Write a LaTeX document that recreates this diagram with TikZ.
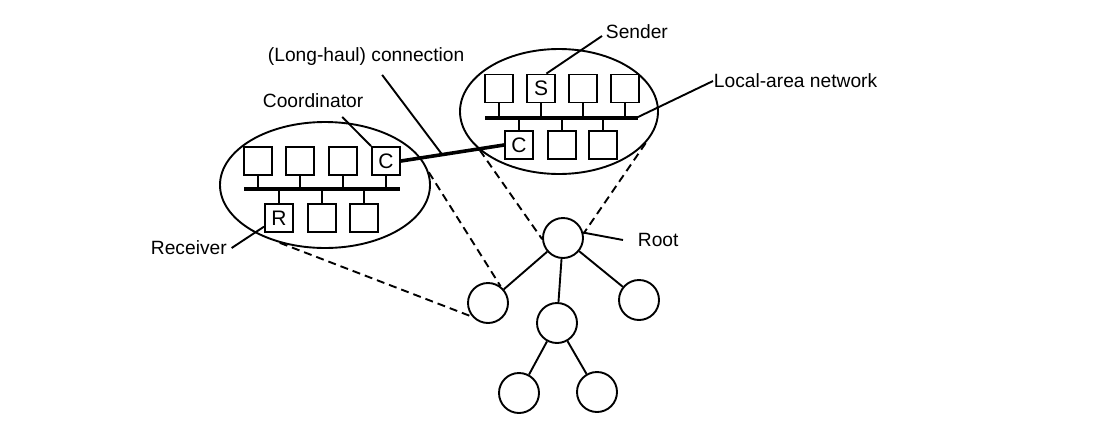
\documentclass[tikz,border=0pt]{standalone}
\usepackage{fontspec}
\setmainfont{Liberation Sans}
\usetikzlibrary{shapes.geometric}
\tikzset{
  host/.style={draw,minimum size=14pt,inner sep=0pt,font=\fontsize{10.5}{12}\selectfont},
  lan/.style={draw,ellipse,inner sep=0pt},
  site/.style={draw,circle,minimum size=20pt,inner sep=0pt},
  lbl/.style={inner sep=0pt,font=\fontsize{9.6}{11}\selectfont},
  bus/.style={line width=2pt},
  zoomline/.style={dash pattern=on 4pt off 2.5pt}
}

\begin{document}
\begin{tikzpicture}[x=0.5pt,y=-0.5pt,line width=0.95pt]
  \useasboundingbox (0,0) rectangle (1114,445);

  % left LAN (receiver side)
  \node[lan,minimum width=105pt,minimum height=63pt] (lanA) at (325,185) {};
  \coordinate (busA1) at (244,189);
  \coordinate (busA2) at (400,189);
  \draw[bus] (busA1) -- (busA2);
  \foreach \i/\x/\t in {1/258/,2/300/,3/343/,4/386/C} {
    \node[host] (a\i) at (\x,161) {\t};
    \draw (a\i.south) -- (a\i.south |- busA1);
  }
  \foreach \i/\x/\t in {1/279/R,2/322/,3/364/} {
    \node[host] (b\i) at (\x,218) {\t};
    \draw (b\i.north) -- (b\i.north |- busA1);
  }

  % right LAN (sender side)
  \node[lan,minimum width=99pt,minimum height=62.5pt] (lanB) at (559,111.5) {};
  \coordinate (busB1) at (485,118);
  \coordinate (busB2) at (638,118);
  \draw[bus] (busB1) -- (busB2);
  \foreach \i/\x/\t in {1/499/,2/541/S,3/583/,4/625/} {
    \node[host] (c\i) at (\x,88.5) {\t};
    \draw (c\i.south) -- (c\i.south |- busB1);
  }
  \foreach \i/\x/\t in {1/519/C,2/562/,3/603/} {
    \node[host] (d\i) at (\x,145) {\t};
    \draw (d\i.north) -- (d\i.north |- busB1);
  }

  % long-haul link between the coordinators
  \draw[line width=1.8pt] (a4.east) -- (d1.west) coordinate[pos=0.4] (haul);

  % tree
  \node[site] (root) at (563,238) {};
  \node[site] (t1) at (488,303) {};
  \node[site] (t2) at (557,323) {};
  \node[site] (t3) at (639,300) {};
  \node[site] (t4) at (519,393) {};
  \node[site] (t5) at (597,392) {};
  \draw (root) -- (t1) (root) -- (t2) (root) -- (t3);
  \draw (t2) -- (t4) (t2) -- (t5);

  \draw[zoomline] (lanA.7) -- (t1.53);
  \draw[zoomline] (lanA.232) -- (t1.221);
  \draw[zoomline] (lanB.206) -- (root.183);
  \draw[zoomline] (lanB.-20) -- (root.12);

  % labels
  \node[lbl,anchor=west] (sender) at (605,32) {Sender};
  \node[lbl,anchor=west] (lanlbl) at (713,81) {Local-area network};
  \node[lbl,anchor=west] (conn) at (267,57) {(Long-haul) connection};
  \node[lbl,anchor=west] (coord) at (262,101) {Coordinator};
  \node[lbl,anchor=west] (recv) at (150,248) {Receiver};
  \node[lbl,anchor=west] (rootlbl) at (637,240) {Root};

  \draw (c2.70) -- ([xshift=-1.5pt,yshift=2pt]sender.south west);
  \draw ([xshift=-1pt]busB2) -- (lanlbl.west);
  \draw ([xshift=8pt,yshift=-4pt]conn.south) -- (haul);
  \draw ([xshift=-11pt,yshift=-4pt]coord.south east) -- (a4.north west);
  \draw ([xshift=2pt]recv.east) -- (b1.210);
  \draw (root.15) -- ([xshift=-7pt]rootlbl.west);
\end{tikzpicture}
\end{document}
